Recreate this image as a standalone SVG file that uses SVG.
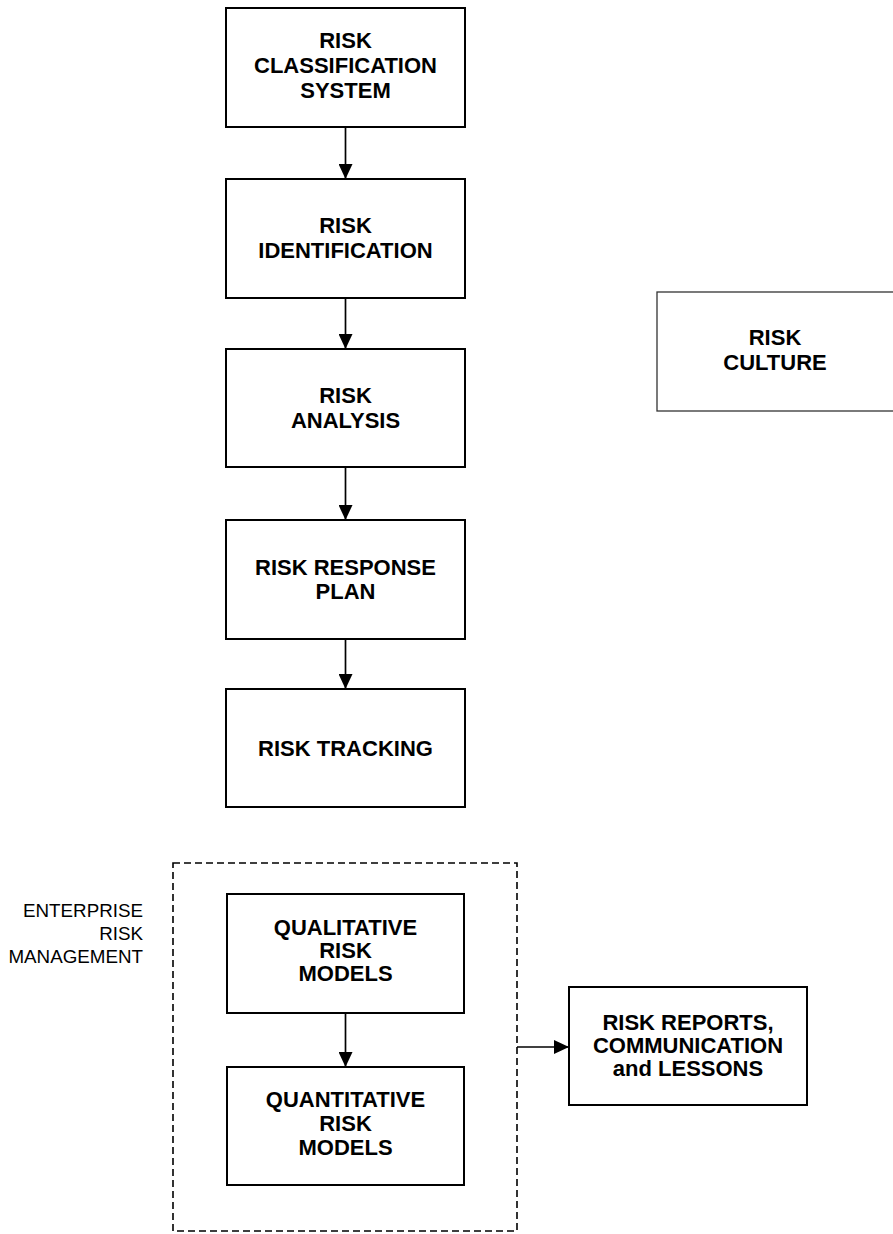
<svg xmlns="http://www.w3.org/2000/svg" width="893" height="1234" viewBox="0 0 893 1234">
  <defs>
    <style>
      .box { fill: #ffffff; stroke: #000000; stroke-width: 2; }
      .frame { fill: none; stroke: #000000; stroke-width: 1.6; stroke-dasharray: 7 4; }
      .lbl { font-family: "Liberation Sans", Arial, Helvetica, sans-serif; font-size: 22px; font-weight: bold; fill: #000000; text-anchor: middle; }
      .side { font-family: "Liberation Sans", Arial, Helvetica, sans-serif; font-size: 18.8px; fill: #000000; text-anchor: end; }
      .link { fill: none; stroke: #000000; stroke-width: 1.7; }
    </style>
    <marker id="arrow" markerUnits="userSpaceOnUse" markerWidth="16" markerHeight="14" refX="15" refY="7" orient="auto">
      <path d="M0,0 L15,7 L0,14 Z" fill="#000000"/>
    </marker>
  </defs>

  <rect width="893" height="1234" fill="#ffffff"/>

  <!-- connectors -->
  <g id="connectors">
    <line class="link" x1="345.5" y1="127" x2="345.5" y2="179" marker-end="url(#arrow)"/>
    <line class="link" x1="345.5" y1="298" x2="345.5" y2="349" marker-end="url(#arrow)"/>
    <line class="link" x1="345.5" y1="467" x2="345.5" y2="520" marker-end="url(#arrow)"/>
    <line class="link" x1="345.5" y1="639" x2="345.5" y2="689" marker-end="url(#arrow)"/>
    <line class="link" x1="345.5" y1="1013" x2="345.5" y2="1067" marker-end="url(#arrow)"/>
    <line class="link" x1="517" y1="1047" x2="569" y2="1047" marker-end="url(#arrow)"/>
  </g>

  <g id="classification">
    <rect class="box" x="226" y="8" width="239" height="119"/>
    <text class="lbl" x="345.5" y="48">RISK</text>
    <text class="lbl" x="345.5" y="73">CLASSIFICATION</text>
    <text class="lbl" x="345.5" y="98">SYSTEM</text>
  </g>

  <g id="identification">
    <rect class="box" x="226" y="179" width="239" height="119"/>
    <text class="lbl" x="345.5" y="233">RISK</text>
    <text class="lbl" x="345.5" y="258">IDENTIFICATION</text>
  </g>

  <g id="analysis">
    <rect class="box" x="226" y="349" width="239" height="118"/>
    <text class="lbl" x="345.5" y="403">RISK</text>
    <text class="lbl" x="345.5" y="428">ANALYSIS</text>
  </g>

  <g id="response">
    <rect class="box" x="226" y="520" width="239" height="119"/>
    <text class="lbl" x="345.5" y="575">RISK RESPONSE</text>
    <text class="lbl" x="345.5" y="599">PLAN</text>
  </g>

  <g id="tracking">
    <rect class="box" x="226" y="689" width="239" height="118"/>
    <text class="lbl" x="345.5" y="756">RISK TRACKING</text>
  </g>

  <g id="culture">
    <rect x="657" y="292" width="260" height="119" fill="#ffffff" stroke="#333333" stroke-width="1.3"/>
    <text class="lbl" x="775" y="345">RISK</text>
    <text class="lbl" x="775" y="370">CULTURE</text>
  </g>

  <g id="erm">
    <rect class="frame" x="173" y="863" width="344" height="368"/>
    <text class="side" x="143" y="917">ENTERPRISE</text>
    <text class="side" x="143" y="940">RISK</text>
    <text class="side" x="143" y="963">MANAGEMENT</text>
  </g>

  <g id="qualitative">
    <rect class="box" x="227" y="894" width="237" height="119"/>
    <text class="lbl" x="345.5" y="935">QUALITATIVE</text>
    <text class="lbl" x="345.5" y="958">RISK</text>
    <text class="lbl" x="345.5" y="981">MODELS</text>
  </g>

  <g id="quantitative">
    <rect class="box" x="227" y="1067" width="237" height="118"/>
    <text class="lbl" x="345.5" y="1107">QUANTITATIVE</text>
    <text class="lbl" x="345.5" y="1131">RISK</text>
    <text class="lbl" x="345.5" y="1155">MODELS</text>
  </g>

  <g id="reports">
    <rect class="box" x="569" y="987" width="238" height="118"/>
    <text class="lbl" x="688" y="1030">RISK REPORTS,</text>
    <text class="lbl" x="688" y="1053">COMMUNICATION</text>
    <text class="lbl" x="688" y="1076">and LESSONS</text>
  </g>
</svg>
